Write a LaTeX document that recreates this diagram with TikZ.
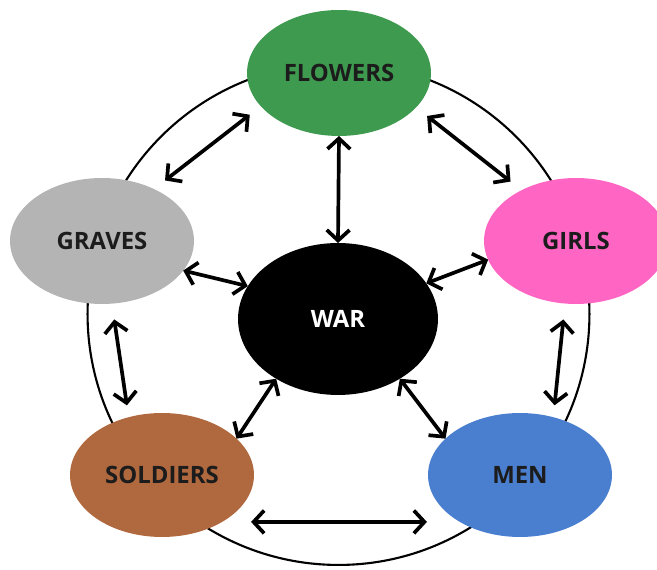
\documentclass[tikz,border=0pt]{standalone}
\usepackage{fontspec}
\setmainfont{Open Sans}
\usetikzlibrary{shapes.geometric,arrows.meta}
\definecolor{cflow}{HTML}{3E9A4F}
\definecolor{cgrave}{HTML}{B4B4B4}
\definecolor{cgirl}{HTML}{FF66C4}
\definecolor{csold}{HTML}{B0683E}
\definecolor{cmen}{HTML}{4A7FCF}
\definecolor{txt}{HTML}{1C1C1C}
\begin{document}
\begin{tikzpicture}[x=0.02cm,y=-0.02cm,
  bubble/.style={ellipse, inner sep=0pt, outer sep=0pt,
    minimum width=3.68cm, minimum height=2.52cm,
    font=\bfseries\fontsize{13.6}{15}\selectfont, text=txt},
  link/.style={line width=2.1pt, line cap=round,
    {Straight Barb[length=6pt,width=13pt,line width=2.1pt]}-{Straight Barb[length=6pt,width=13pt,line width=2.1pt]}},
  ringstyle/.style={circle, draw=black, line width=1.2pt, minimum size=10.04cm, inner sep=0pt}]
\useasboundingbox (0,0) rectangle (657,570);
\node[ringstyle] (ring) at (338.5,314) {};
\node[bubble, fill=cflow] (flowers) at (339,73) {FLOWERS};
\node[bubble, fill=cgrave] (graves) at (102,241) {GRAVES};
\node[bubble, fill=cgirl] (girls) at (576,241) {GIRLS};
\node[bubble, fill=black, text=white, minimum width=4cm, minimum height=3.04cm] (war) at (338,319) {WAR};
\node[bubble, fill=csold, minimum height=2.48cm] (soldiers) at (162,475) {SOLDIERS};
\node[bubble, fill=cmen, minimum height=2.48cm] (men) at (520,475) {MEN};
\draw[link] (flowers.south) -- (war.north);
\draw[link, shorten <=0.28cm, shorten >=0.28cm] (flowers.203) -- (graves.45);
\draw[link, shorten <=0.28cm, shorten >=0.28cm] (flowers.336) -- (girls.137);
\draw[link] (graves.340.5) -- (war.160.6);
\draw[link] (girls.192.2) -- (war.22.1);
\draw[link, shorten <=0.32cm, shorten >=0.24cm] (graves.279.3) -- (soldiers.120);
\draw[link, shorten <=0.32cm, shorten >=0.24cm] (girls.260.7) -- (men.60);
\draw[link] (war.224.6) -- (soldiers.26.9);
\draw[link] (war.316.3) -- (men.154.7);
\draw[link, shorten <=0.58cm, shorten >=0.66cm] (soldiers.-38) -- (men.218);
\end{tikzpicture}
\end{document}
